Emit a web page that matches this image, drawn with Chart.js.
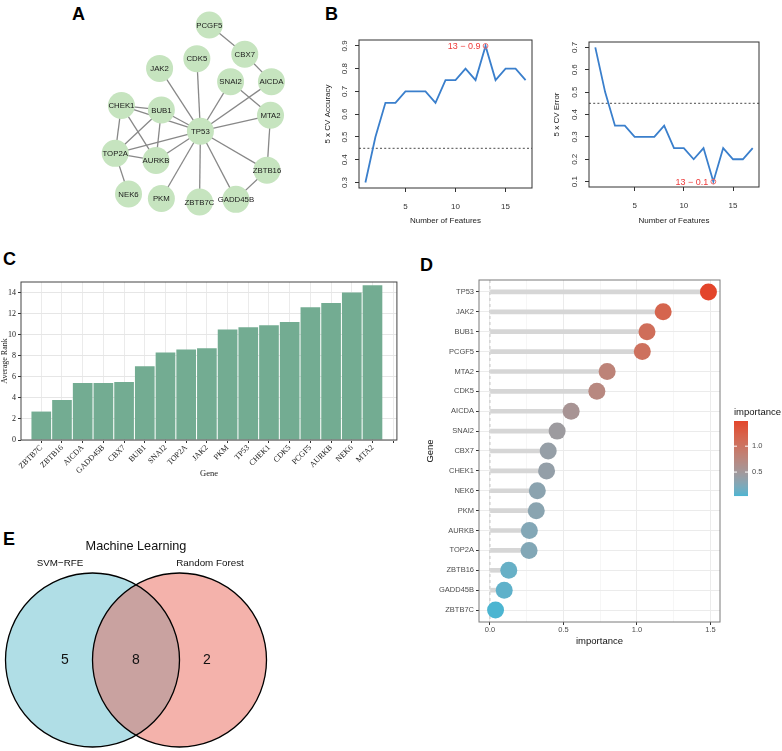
<!DOCTYPE html>
<html><head><meta charset="utf-8">
<script src="https://cdn.jsdelivr.net/npm/chart.js@4.4.1/dist/chart.umd.min.js"></script>
<style>
html,body{margin:0;padding:0;background:#fff}
body{width:782px;height:751px;position:relative;overflow:hidden;font-family:'Liberation Sans',Arial,sans-serif}
.panel{position:absolute}
.tag{position:absolute;font:bold 18px 'Liberation Sans',Arial,sans-serif;line-height:18px;color:#000}
</style></head><body>
<div class="tag" style="left:72px;top:5px">A</div>
<div class="tag" style="left:325px;top:5px">B</div>
<div class="tag" style="left:3px;top:250px">C</div>
<div class="tag" style="left:420px;top:256px">D</div>
<div class="tag" style="left:3px;top:530px">E</div>
<div class="panel" style="left:60px;top:0;width:240px;height:235px"><canvas id="netA"></canvas></div>
<div class="panel" style="left:300px;top:25px;width:240px;height:210px"><canvas id="rfeAcc"></canvas></div>
<div class="panel" style="left:540px;top:25px;width:242px;height:210px"><canvas id="rfeErr"></canvas></div>
<div class="panel" style="left:0;top:265px;width:400px;height:215px"><canvas id="rankC"></canvas></div>
<div class="panel" style="left:400px;top:270px;width:382px;height:380px"><canvas id="impD"></canvas></div>
<div class="panel" style="left:0;top:530px;width:300px;height:221px"><canvas id="vennE"></canvas></div>
<script>
// ================= DATA =================
// Panel A: PPI network
const nodeNames = ['PCGF5','CBX7','CDK5','JAK2','SNAI2','AICDA','CHEK1','BUB1','MTA2','TP53','TOP2A','AURKB','ZBTB16','NEK6','PKM','ZBTB7C','GADD45B'];
const nodeX = [213,253,199,157,237,283,114,159,282,203,107,153,278,122,159,202,243];
const nodeY = [13,46,51,62,77,77,104,109,115,133,158,166,177,204,209,213,210];
const networkEdges = [
  ['PCGF5','CBX7'],['CBX7','AICDA'],['AICDA','TP53'],['SNAI2','TP53'],['SNAI2','MTA2'],
  ['CDK5','TP53'],['JAK2','TP53'],['CHEK1','BUB1'],['CHEK1','TP53'],['CHEK1','TOP2A'],
  ['CHEK1','AURKB'],['BUB1','TP53'],['BUB1','TOP2A'],['BUB1','AURKB'],['TOP2A','TP53'],
  ['TOP2A','AURKB'],['TOP2A','NEK6'],['AURKB','TP53'],['PKM','TP53'],['ZBTB7C','TP53'],
  ['GADD45B','TP53'],['ZBTB16','TP53'],['MTA2','TP53'],['MTA2','ZBTB16'],['ZBTB16','GADD45B']
];
// Panel B: SVM-RFE curves
const featureCounts = [1,2,3,4,5,6,7,8,9,10,11,12,13,14,15,16,17];
const cvAccuracy = [0.30,0.50,0.65,0.65,0.70,0.70,0.70,0.65,0.75,0.75,0.80,0.75,0.90,0.75,0.80,0.80,0.75];
const cvError    = [0.70,0.50,0.35,0.35,0.30,0.30,0.30,0.35,0.25,0.25,0.20,0.25,0.10,0.25,0.20,0.20,0.25];
const cvReference = 0.45;
// Panel C: average rank
const rankGenes = ['ZBTB7C','ZBTB16','AICDA','GADD45B','CBX7','BUB1','SNAI2','TOP2A','JAK2','PKM','TP53','CHEK1','CDK5','PCGF5','AURKB','NEK6','MTA2'];
const averageRank = [2.7,3.8,5.4,5.4,5.5,7.0,8.3,8.6,8.7,10.5,10.7,10.9,11.2,12.6,13.0,14.0,14.7];
// Panel D: random forest importance
const impGenes = ['TP53','JAK2','BUB1','PCGF5','MTA2','CDK5','AICDA','SNAI2','CBX7','CHEK1','NEK6','PKM','AURKB','TOP2A','ZBTB16','GADD45B','ZBTB7C'];
const importance = [1.486,1.178,1.068,1.036,0.797,0.727,0.552,0.457,0.396,0.385,0.322,0.315,0.268,0.266,0.128,0.097,0.038];
const impLegendTicks = [0.5, 1.0];
// Panel E: Venn
const vennTitle = 'Machine Learning';
const vennSetNames = ['SVM\u2212RFE','Random Forest'];
const vennCounts = [5, 8, 2]; // only SVM-RFE, both, only RF

// ================= SETUP =================
const FONT = "'Liberation Sans', Arial, sans-serif";
const SERIF = "'Liberation Serif', 'Times New Roman', serif";
Chart.defaults.font.family = FONT;
Chart.defaults.color = '#333';
Chart.defaults.animation = false;
Chart.defaults.responsive = true;
Chart.defaults.maintainAspectRatio = false;
Chart.defaults.plugins.legend.display = false;
Chart.defaults.plugins.tooltip.enabled = false;
Chart.defaults.events = [];

// ================= PANEL A =================
const networkPlugin = {
  id: 'network',
  beforeDatasetsDraw(chart) {
    const {ctx, scales: {x, y}} = chart;
    ctx.save();
    ctx.strokeStyle = '#888'; ctx.lineWidth = 1.3;
    networkEdges.forEach(([a, b]) => {
      const i = nodeNames.indexOf(a), j = nodeNames.indexOf(b);
      ctx.beginPath();
      ctx.moveTo(x.getPixelForValue(nodeX[i]), y.getPixelForValue(nodeY[i]));
      ctx.lineTo(x.getPixelForValue(nodeX[j]), y.getPixelForValue(nodeY[j]));
      ctx.stroke();
    });
    ctx.restore();
  },
  afterDatasetsDraw(chart) {
    const {ctx, scales: {x, y}} = chart;
    ctx.save();
    ctx.font = '7.8px ' + FONT; ctx.fillStyle = '#1a1a1a';
    ctx.textAlign = 'center'; ctx.textBaseline = 'middle';
    nodeNames.forEach((n, i) => ctx.fillText(n, x.getPixelForValue(nodeX[i]), y.getPixelForValue(nodeY[i]) + 0.5));
    ctx.restore();
  }
};
new Chart(document.getElementById('netA'), {
  type: 'scatter',
  data: { datasets: [{ data: nodeNames.map((n, i) => ({x: nodeX[i], y: nodeY[i]})), pointRadius: 13.5, backgroundColor: '#c6e4bf', borderWidth: 0, clip: false }] },
  options: { layout: {padding: 0}, scales: { x: {display: false, min: 60, max: 300}, y: {display: false, min: 0, max: 235, reverse: true} } },
  plugins: [networkPlugin]
});

// ================= PANEL B =================
const rfeDecor = {
  id: 'rfeDecor',
  beforeDatasetsDraw(chart) {
    const {ctx, chartArea: ca, scales: {y}} = chart;
    const yy = y.getPixelForValue(cvReference);
    ctx.save();
    ctx.strokeStyle = '#6e6e6e'; ctx.lineWidth = 1.3; ctx.setLineDash([2, 2.2]);
    ctx.beginPath(); ctx.moveTo(ca.left, yy); ctx.lineTo(ca.right, yy); ctx.stroke();
    ctx.restore();
  },
  afterDatasetsDraw(chart, args, opts) {
    const {ctx, chartArea: ca, scales: {x, y}} = chart;
    ctx.save();
    ctx.strokeStyle = '#333'; ctx.lineWidth = 1;
    ctx.strokeRect(ca.left, ca.top, ca.right - ca.left, ca.bottom - ca.top);
    const vals = chart.data.datasets[0].data;
    const b = opts.best;
    const px = x.getPixelForValue(vals[b].x), py = y.getPixelForValue(vals[b].y);
    ctx.font = '9px ' + FONT; ctx.fillStyle = '#ee3b3b';
    ctx.textAlign = 'right'; ctx.textBaseline = 'middle';
    ctx.fillText(featureCounts[b] + ' \u2212 ' + vals[b].y, px - 5, py + 0.5);
    ctx.restore();
  }
};
function rfeChart(id, values, yLabel, yMin, yMax, bestIdx, yWidth, yTitlePad, padTop, padRight, xHeight) {
  const axisCommon = { grid: {drawOnChartArea: false, drawTicks: true, tickLength: 4, color: '#333'}, border: {display: false} };
  return new Chart(document.getElementById(id), {
    type: 'line',
    data: { datasets: [
      { data: featureCounts.map((f, i) => ({x: f, y: values[i]})), borderColor: '#3a7fcc', borderWidth: 1.8, pointRadius: 0, tension: 0, order: 1 },
      { data: [{x: featureCounts[bestIdx], y: values[bestIdx]}], showLine: false, pointRadius: 2.4, pointBorderColor: '#f06a6a', pointBackgroundColor: 'rgba(0,0,0,0)', pointBorderWidth: 1, order: 0 }
    ] },
    options: {
      layout: {padding: {top: padTop, right: padRight, left: 0, bottom: 0}},
      plugins: { rfeDecor: {best: bestIdx} },
      scales: {
        x: Object.assign({}, axisCommon, {
          type: 'linear', min: 0.36, max: 17.64,
          ticks: {stepSize: 5, includeBounds: false, maxRotation: 0, padding: 10, color: '#333', font: {size: 8}},
          title: {display: true, text: 'Number of Features', color: '#222', font: {size: 8}, padding: {top: 0, bottom: 9.7}},
          afterFit(s) { s.height = xHeight; }
        }),
        y: Object.assign({}, axisCommon, {
          type: 'linear', min: yMin, max: yMax,
          ticks: {stepSize: 0.1, includeBounds: false, minRotation: 90, maxRotation: 90, crossAlign: 'center', padding: 5, color: '#333', font: {size: 8}, callback: v => v.toFixed(1)},
          title: {display: true, text: yLabel, color: '#222', font: {size: 8}, padding: {top: yTitlePad, bottom: 0}},
          afterFit(s) { s.width = yWidth; }
        })
      }
    },
    plugins: [rfeDecor]
  });
}
const accBest = cvAccuracy.indexOf(Math.max(...cvAccuracy));
const errBest = cvError.indexOf(Math.min(...cvError));
rfeChart('rfeAcc', cvAccuracy, '5 x CV Accuracy', 0.276, 0.926, accBest, 59, 23, 15, 8, 47);
rfeChart('rfeErr', cvError, '5 x CV Error', 0.076, 0.724, errBest, 49, 12, 17, 23, 48);

// ================= PANEL C =================
const boxPlugin = {
  id: 'boxFrame',
  afterDatasetsDraw(chart, args, opts) {
    const {ctx, chartArea: ca} = chart;
    ctx.save(); ctx.strokeStyle = opts.color || '#333'; ctx.lineWidth = 1;
    ctx.strokeRect(ca.left, ca.top, ca.right - ca.left, ca.bottom - ca.top);
    ctx.restore();
  }
};
new Chart(document.getElementById('rankC'), {
  type: 'bar',
  data: { datasets: [{ data: averageRank.map((v, i) => ({x: i, y: v})), backgroundColor: '#73ac92', borderWidth: 0, barPercentage: 0.95, categoryPercentage: 1 }] },
  options: {
    layout: {padding: {top: 17, right: 3, left: 0, bottom: 0}},
    plugins: { boxFrame: {color: '#444'} },
    scales: {
      x: {
        type: 'linear', min: -0.98, max: 17.18, offset: false,
        grid: {offset: false, color: '#ebebeb', tickColor: '#333', tickLength: 3, drawTicks: true},
        border: {display: false},
        ticks: {stepSize: 1, includeBounds: false, autoSkip: false, minRotation: 45, maxRotation: 45, padding: 0, color: '#222', font: {family: SERIF, size: 8}, callback: v => rankGenes[v] ?? ''},
        title: {display: true, text: 'Gene', color: '#222', font: {family: SERIF, size: 8.5}, padding: {top: 0, bottom: 1}},
        afterFit(s) { s.height = 40; }
      },
      y: {
        type: 'linear', min: 0, max: 15,
        grid: {color: c => (c.tick && c.tick.value % 2 === 0) ? '#e6e6e6' : '#f1f1f1', tickColor: c => (c.tick && c.tick.value % 2 === 0) ? '#333' : 'rgba(0,0,0,0)', tickLength: 3},
        border: {display: false},
        ticks: {stepSize: 1, includeBounds: false, padding: 2, color: '#222', font: {family: SERIF, size: 8}, callback: v => v % 2 === 0 ? v : ''},
        title: {display: true, text: 'Average Rank', color: '#222', font: {family: SERIF, size: 8}, padding: {top: 0, bottom: 0}},
        afterFit(s) { s.width = 21; }
      }
    }
  },
  plugins: [boxPlugin]
});

// ================= PANEL D =================
function hexRgb(h) { return [parseInt(h.slice(1,3),16), parseInt(h.slice(3,5),16), parseInt(h.slice(5,7),16)]; }
function toLin(c) { c /= 255; return c <= 0.04045 ? c / 12.92 : Math.pow((c + 0.055) / 1.055, 2.4); }
function fromLin(c) { const v = c <= 0.0031308 ? 12.92 * c : 1.055 * Math.pow(c, 1 / 2.4) - 0.055; return Math.max(0, Math.min(255, Math.round(v * 255))); }
function rgbToLab([r, g, b]) {
  r = toLin(r); g = toLin(g); b = toLin(b);
  const X = (0.4124*r + 0.3576*g + 0.1805*b) / 0.95047, Y = 0.2126*r + 0.7152*g + 0.0722*b, Z = (0.0193*r + 0.1192*g + 0.9505*b) / 1.08883;
  const f = t => t > 0.008856 ? Math.cbrt(t) : 7.787 * t + 16 / 116;
  const fx = f(X), fy = f(Y), fz = f(Z);
  return [116*fy - 16, 500*(fx - fy), 200*(fy - fz)];
}
function labToRgb([L, a, bb]) {
  const fy = (L + 16) / 116, fx = fy + a / 500, fz = fy - bb / 200;
  const inv = t => t*t*t > 0.008856 ? t*t*t : (t - 16/116) / 7.787;
  const X = inv(fx) * 0.95047, Y = inv(fy), Z = inv(fz) * 1.08883;
  const r = 3.2406*X - 1.5372*Y - 0.4986*Z, g = -0.9689*X + 1.8758*Y + 0.0415*Z, b = 0.0557*X - 0.2040*Y + 1.0570*Z;
  return [fromLin(r), fromLin(g), fromLin(b)];
}
const LOW_LAB = rgbToLab(hexRgb('#4cb5d1')), HIGH_LAB = rgbToLab(hexRgb('#e3452b'));
const impMin = Math.min(...importance), impMax = Math.max(...importance);
function impColor(v) {
  const t = Math.max(0, Math.min(1, (v - impMin) / (impMax - impMin)));
  const lab = LOW_LAB.map((c, k) => c + (HIGH_LAB[k] - c) * t);
  const [r, g, b] = labToRgb(lab);
  return `rgb(${r},${g},${b})`;
}
const impDecor = {
  id: 'impDecor',
  beforeDatasetsDraw(chart) {
    const {ctx, chartArea: ca, scales: {x}} = chart;
    const x0 = x.getPixelForValue(0);
    ctx.save(); ctx.strokeStyle = '#c4c4c4'; ctx.lineWidth = 1; ctx.setLineDash([3, 3]);
    ctx.beginPath(); ctx.moveTo(x0, ca.top); ctx.lineTo(x0, ca.bottom); ctx.stroke();
    ctx.restore();
  },
  afterDraw(chart) {
    const {ctx, chartArea: ca} = chart;
    ctx.save();
    ctx.strokeStyle = '#7a7a7a'; ctx.lineWidth = 1;
    ctx.strokeRect(ca.left, ca.top, ca.right - ca.left, ca.bottom - ca.top);
    // colour bar legend
    const bx = ca.right + 14, bw = 14, bTop = ca.top + 141, bh = 75;
    for (let k = 0; k < bh; k++) {
      const v = impMax - (k + 0.5) / bh * (impMax - impMin);
      ctx.fillStyle = impColor(v);
      ctx.fillRect(bx, bTop + k, bw, 1.05);
    }
    ctx.font = '7.5px ' + FONT; ctx.fillStyle = '#4d4d4d'; ctx.textAlign = 'left'; ctx.textBaseline = 'middle';
    impLegendTicks.forEach(v => {
      const yy = bTop + (impMax - v) / (impMax - impMin) * bh;
      ctx.strokeStyle = '#fff'; ctx.beginPath();
      ctx.moveTo(bx, yy); ctx.lineTo(bx + 3, yy); ctx.moveTo(bx + bw - 3, yy); ctx.lineTo(bx + bw, yy); ctx.stroke();
      ctx.fillText(v.toFixed(1), bx + bw + 4, yy);
    });
    ctx.font = '9.5px ' + FONT; ctx.fillStyle = '#111';
    ctx.fillText('importance', bx, bTop - 9);
    ctx.restore();
  }
};
new Chart(document.getElementById('impD'), {
  type: 'scatter',
  data: { datasets: [
    { type: 'bar', indexAxis: 'y', data: importance.map((v, i) => ({x: v, y: i})), backgroundColor: '#d6d6d6', borderWidth: 0, barThickness: 4, order: 1 },
    { type: 'scatter', data: importance.map((v, i) => ({x: v, y: i})), pointRadius: 8.5, pointBackgroundColor: c => impColor(c.raw ? c.raw.x : 0), pointBorderWidth: 0, order: 0, clip: false }
  ] },
  options: {
    layout: {padding: {top: 10, right: 62, left: 0, bottom: 0}},
    scales: {
      x: {
        type: 'linear', min: -0.0745, max: 1.5645,
        grid: {color: c => (c.tick && Math.abs(c.tick.value % 0.5) < 1e-9) ? '#ebebeb' : '#f6f6f6', tickColor: c => (c.tick && Math.abs(c.tick.value % 0.5) < 1e-9) ? '#333' : 'rgba(0,0,0,0)', tickLength: 3},
        border: {display: false},
        ticks: {stepSize: 0.25, includeBounds: false, maxRotation: 0, autoSkip: false, padding: 0, color: '#4d4d4d', font: {size: 7.5}, callback: v => Math.abs(v % 0.5) < 1e-9 ? v.toFixed(1) : ''},
        title: {display: true, text: 'importance', color: '#111', font: {size: 9.5}, padding: {top: 0, bottom: 3.3}},
        afterFit(s) { s.height = 28; }
      },
      y: {
        type: 'linear', min: -0.6, max: 16.6, reverse: true, offset: false,
        grid: {offset: false, color: '#ebebeb', tickColor: '#333', tickLength: 3},
        border: {display: false},
        ticks: {stepSize: 1, includeBounds: false, autoSkip: false, padding: 2, color: '#4d4d4d', font: {size: 7.5}, callback: v => impGenes[v] ?? ''},
        title: {display: true, text: 'Gene', color: '#111', font: {size: 9.5}, padding: {top: 25, bottom: 0}},
        afterFit(s) { s.width = 79; }
      }
    }
  },
  plugins: [impDecor]
});

// ================= PANEL E =================
const VENN = {cx: [92.5, 179.5], cy: 660, r: 87, labelX: [65, 136, 207], titleY: 546, setY: 563, setX: [60, 210]};
const vennPlugin = {
  id: 'venn',
  afterDatasetsDraw(chart) {
    const {ctx, scales: {x, y}} = chart;
    const c1x = x.getPixelForValue(VENN.cx[0]), c2x = x.getPixelForValue(VENN.cx[1]), cy = y.getPixelForValue(VENN.cy);
    const r = x.getPixelForValue(VENN.r) - x.getPixelForValue(0);
    const circle = cx => { ctx.beginPath(); ctx.arc(cx, cy, r, 0, Math.PI * 2); };
    ctx.save();
    ctx.fillStyle = '#b0dee6'; circle(c1x); ctx.fill();
    ctx.fillStyle = '#f4b2ab'; circle(c2x); ctx.fill();
    ctx.save(); circle(c1x); ctx.clip(); ctx.fillStyle = '#c9a2a0'; circle(c2x); ctx.fill(); ctx.restore();
    ctx.strokeStyle = '#000'; ctx.lineWidth = 1.3;
    circle(c1x); ctx.stroke(); circle(c2x); ctx.stroke();
    ctx.fillStyle = '#111'; ctx.textAlign = 'center'; ctx.textBaseline = 'middle';
    ctx.font = '12.7px ' + FONT;
    ctx.fillText(vennTitle, x.getPixelForValue(136), y.getPixelForValue(VENN.titleY));
    ctx.font = '9.8px ' + FONT;
    vennSetNames.forEach((n, i) => ctx.fillText(n, x.getPixelForValue(VENN.setX[i]), y.getPixelForValue(VENN.setY)));
    ctx.font = '14px ' + FONT;
    vennCounts.forEach((n, i) => ctx.fillText(String(n), x.getPixelForValue(VENN.labelX[i]), cy + 0.5));
    ctx.restore();
  }
};
new Chart(document.getElementById('vennE'), {
  type: 'scatter',
  data: { datasets: [{ data: vennCounts.map((n, i) => ({x: VENN.labelX[i], y: VENN.cy})), pointRadius: 0 }] },
  options: { layout: {padding: 0}, scales: { x: {display: false, min: 0, max: 300}, y: {display: false, min: 530, max: 751, reverse: true} } },
  plugins: [vennPlugin]
});
</script>
</body></html>
